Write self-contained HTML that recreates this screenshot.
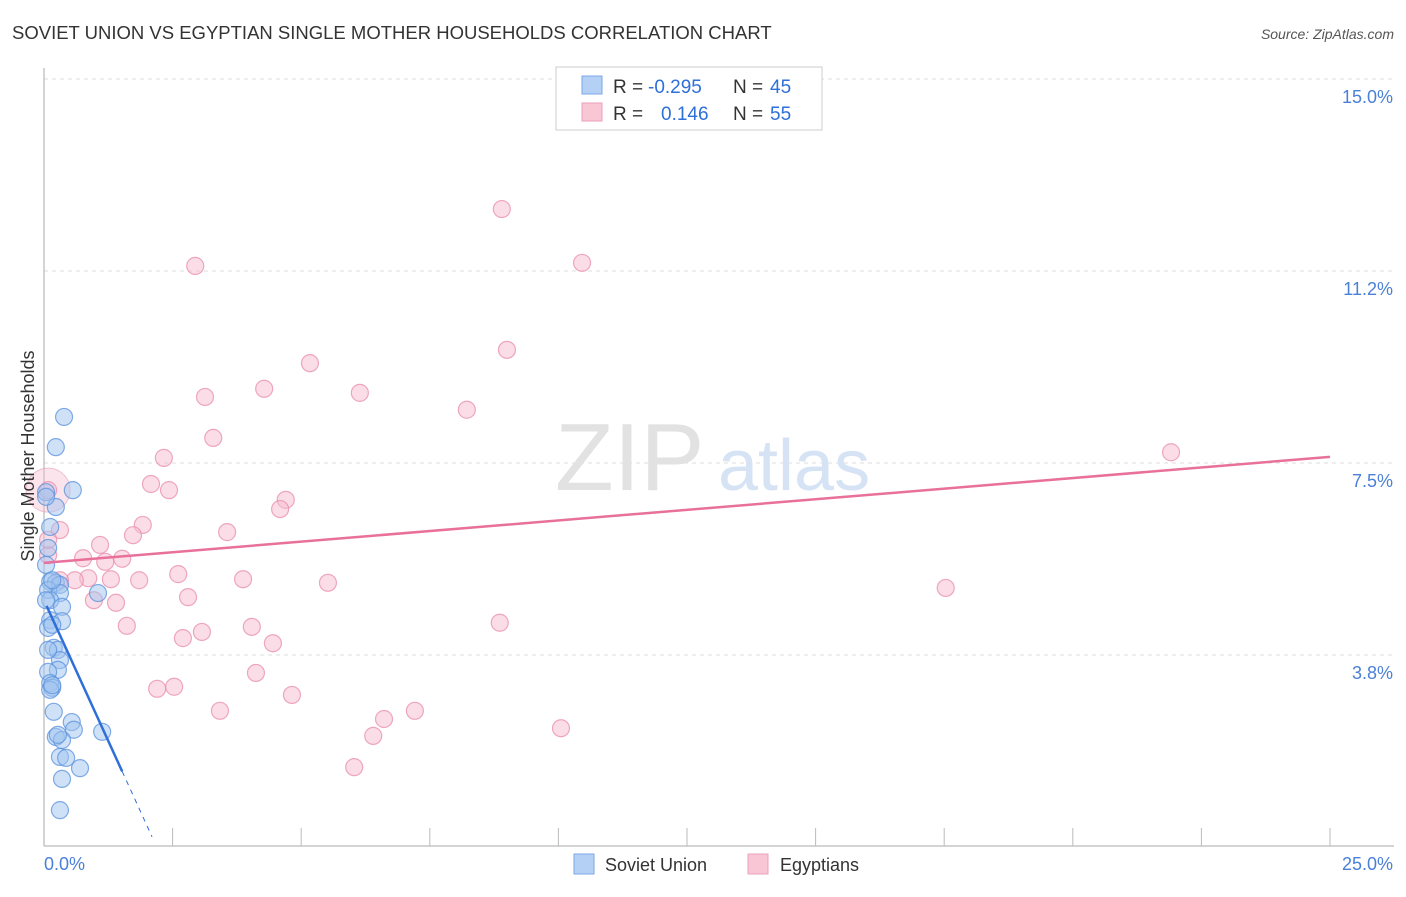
<!DOCTYPE html>
<html><head><meta charset="utf-8"><style>
body{margin:0;background:#fff;font-family:"Liberation Sans",sans-serif}
svg text{font-family:"Liberation Sans",sans-serif}
</style></head><body>
<svg id="chart" width="1406" height="892" viewBox="0 0 1406 892">
<text x="12" y="39" font-size="18.5" fill="#333">SOVIET UNION VS EGYPTIAN SINGLE MOTHER HOUSEHOLDS CORRELATION CHART</text>
<text x="1394" y="39" font-size="14" fill="#555" font-style="italic" text-anchor="end">Source: ZipAtlas.com</text>
<g id="grid"></g>
<text x="555" y="490" font-size="96" fill="#e2e2e2" font-family="Liberation Serif">ZIP</text>
<text x="718" y="490" font-size="72" fill="#d6e3f5">atlas</text>
<g id="axes"></g>
<g id="pts"></g>
<g id="lines"></g>
<text transform="translate(34,456) rotate(-90)" font-size="18" fill="#333" text-anchor="middle">Single Mother Households</text>
<g>
<rect x="556" y="67" width="266" height="63" fill="#fff" stroke="#ccc"/>
<rect x="582" y="76" width="20" height="18" fill="#b5d0f5" stroke="#7aa7e6"/>
<rect x="582" y="103" width="20" height="18" fill="#f9c6d6" stroke="#eca0ba"/>
<text x="613" y="93" font-size="19" fill="#333">R =</text>
<text x="648" y="93" font-size="19" fill="#2e6fd8">-0.295</text>
<text x="733" y="93" font-size="19" fill="#333">N =</text>
<text x="770" y="93" font-size="19" fill="#2e6fd8">45</text>
<text x="613" y="120" font-size="19" fill="#333">R =</text>
<text x="661" y="120" font-size="19" fill="#2e6fd8">0.146</text>
<text x="733" y="120" font-size="19" fill="#333">N =</text>
<text x="770" y="120" font-size="19" fill="#2e6fd8">55</text>
</g>
<g>
<rect x="574" y="854" width="20" height="20" fill="#b5d0f5" stroke="#7aa7e6"/>
<text x="605" y="871" font-size="18" fill="#333">Soviet Union</text>
<rect x="748" y="854" width="20" height="20" fill="#f9c6d6" stroke="#eca0ba"/>
<text x="780" y="871" font-size="18" fill="#333">Egyptians</text>
</g>
</svg>
<script>
const yTicks=[3.75,7.5,11.25,15];
const yTickLabels=["3.8%","7.5%","11.2%","15.0%"];
const blueX=[0.39,0.23,0.56,0.04,0.23,0.12,0.08,0.04,0.12,0.23,0.31,0.08,0.31,1.05,0.12,0.35,0.12,0.35,0.08,0.16,0.19,0.27,0.31,0.27,0.08,0.12,0.16,0.12,0.19,0.54,0.58,1.13,0.23,0.35,0.31,0.43,0.70,0.35,0.31,0.04,0.16,0.04,0.08,0.16,0.27];
const blueY=[8.40,7.81,6.97,6.93,6.64,6.25,5.84,5.51,5.18,5.16,5.12,5.02,4.96,4.96,4.82,4.69,4.43,4.41,4.28,4.34,3.89,3.85,3.65,3.46,3.42,3.20,3.11,3.07,2.64,2.44,2.29,2.25,2.15,2.09,1.76,1.74,1.54,1.33,0.72,6.84,5.21,4.82,3.85,3.16,2.19];
const pinkX=[8.90,2.94,10.46,9.00,5.17,4.28,6.14,3.13,8.22,3.29,21.91,2.33,2.08,2.43,4.70,4.59,0.08,0.31,1.92,3.56,1.73,1.09,0.08,0.76,1.52,1.19,2.61,3.87,5.52,1.85,1.30,0.86,0.60,17.53,2.80,0.97,1.40,1.61,4.04,3.07,2.70,8.86,4.45,4.12,2.20,2.53,4.82,3.42,7.21,6.61,10.05,6.40,6.03,0.08,0.31];
const pinkY=[12.46,11.35,11.41,9.71,9.45,8.95,8.87,8.79,8.54,7.99,7.71,7.60,7.09,6.97,6.78,6.60,6.97,6.19,6.29,6.15,6.09,5.90,5.70,5.64,5.63,5.57,5.33,5.23,5.16,5.21,5.23,5.25,5.21,5.06,4.88,4.82,4.77,4.32,4.30,4.20,4.08,4.38,3.98,3.40,3.09,3.13,2.97,2.66,2.66,2.50,2.32,2.17,1.56,6.00,5.21];
const blueTrend=[4.82,-2.2];
const pinkTrend=[5.55,0.0828];
const NS="http://www.w3.org/2000/svg";
const X=v=>44+v/25*1286, Y=v=>847-v*51.2;
function mk(p,t,a){const e=document.createElementNS(NS,t);for(const k in a)e.setAttribute(k,a[k]);document.getElementById(p).appendChild(e);return e;}
yTicks.forEach((t,i)=>{
 const l=mk('grid','line',{x1:44,x2:1394,y1:Y(t),y2:Y(t),stroke:'#ddd','stroke-dasharray':'4,4'});
 
 
 const tx=mk('grid','text',{x:1393,y:Y(t)+24,'font-size':18,fill:'#4a80d8','text-anchor':'end'});
 tx.textContent=yTickLabels[i];
 
 
});
mk('axes','line',{x1:44,x2:44,y1:68,y2:846,stroke:'#aaa'});
mk('axes','line',{x1:44,x2:1394,y1:846,y2:846,stroke:'#aaa'});
for(let i=1;i<=10;i++){const t=mk('axes','line',{x1:X(i*2.5),x2:X(i*2.5),y1:828,y2:846,stroke:'#bbb'});
 
 }
const x0=mk('axes','text',{x:44,y:870,'font-size':18,fill:'#4a80d8'});x0.textContent='0.0%';

const x1=mk('axes','text',{x:1393,y:870,'font-size':18,fill:'#4a80d8','text-anchor':'end'});x1.textContent='25.0%';

mk('pts','circle',{cx:X(0.08),cy:Y(6.97),r:22,fill:'rgba(247,188,208,0.4)',stroke:'rgba(232,144,176,0.5)'});
pinkX.forEach((v,i)=>{const c=mk('pts','circle',{cx:X(v),cy:Y(pinkY[i]),r:8.5,fill:'rgba(247,188,208,0.5)',stroke:'rgba(232,140,172,0.75)','stroke-width':1.2});
 
 });
blueX.forEach((v,i)=>{const c=mk('pts','circle',{cx:X(v),cy:Y(blueY[i]),r:8.5,fill:'rgba(160,195,240,0.5)',stroke:'rgba(90,145,220,0.75)','stroke-width':1.2});
 
 });
const bl=mk('lines','line',{x1:X(0.05),y1:Y(blueTrend[0]+blueTrend[1]*0.05),x2:X(1.52),y2:Y(blueTrend[0]+blueTrend[1]*1.52),stroke:'#2e6fd8','stroke-width':2.5});

const bd=mk('lines','line',{x1:X(1.52),y1:Y(blueTrend[0]+blueTrend[1]*1.52),x2:X(2.1),y2:Y(blueTrend[0]+blueTrend[1]*2.1),stroke:'#2e6fd8','stroke-width':1,'stroke-dasharray':'5,5'});

const pl=mk('lines','line',{x1:X(0),y1:Y(pinkTrend[0]),x2:X(25),y2:Y(pinkTrend[0]+pinkTrend[1]*25),stroke:'#e8709a','stroke-width':2.5});

</script>
</body></html>
